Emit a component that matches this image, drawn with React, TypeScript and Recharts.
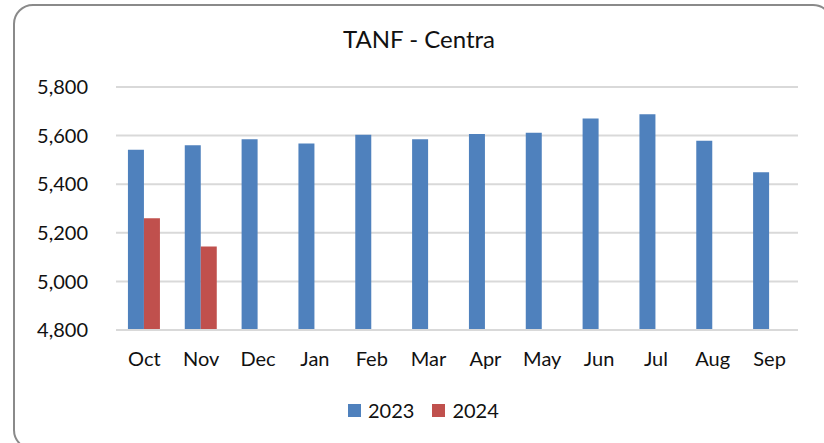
import React from 'react';
import { BarChart, Bar, XAxis, YAxis, CartesianGrid } from 'recharts';

const months = ['Oct', 'Nov', 'Dec', 'Jan', 'Feb', 'Mar', 'Apr', 'May', 'Jun', 'Jul', 'Aug', 'Sep'];
const values2023 = [5542, 5560, 5585, 5568, 5604, 5585, 5607, 5612, 5670, 5688, 5579, 5449];
const values2024: (number | null)[] = [5260, 5144, null, null, null, null, null, null, null, null, null, null];
const yTicks = [4800, 5000, 5200, 5400, 5600, 5800];
const seriesNames = ['2023', '2024'];
const seriesColors = ['#4f81bd', '#c0504d'];
const title = 'TANF - Centra';

const data = months.map((m, i) => ({ month: m, y2023: values2023[i], y2024: values2024[i] }));

const FONT = 'Lato, "Open Sans", sans-serif';

export default function App() {
  return (
    <div style={{ position: 'absolute', left: 0, top: 0, width: 824, height: 443, background: '#fff', fontFamily: FONT, overflow: 'hidden' }}>
      <div
        style={{
          position: 'absolute', left: 13, top: 4, width: 820, height: 446,
          border: '2px solid #8a8a8a', borderRadius: 20, boxSizing: 'border-box',
        }}
      />
      <div style={{ position: 'absolute', left: 0, width: 838, top: 23, textAlign: 'center', fontSize: 24, color: '#111', lineHeight: '32px' }}>
        {title}
      </div>
      <div style={{ position: 'absolute', left: 0, top: 0 }}>
        <BarChart
          width={824}
          height={443}
          data={data}
          margin={{ top: 87, right: 26, left: 36, bottom: 83 }}
          barCategoryGap="21%"
          barGap={0}
        >
          <CartesianGrid vertical={false} stroke="#d9d9d9" strokeWidth={2} />
          <XAxis
            dataKey="month"
            height={30}
            axisLine={{ stroke: '#d9d9d9', strokeWidth: 2 }}
            tickLine={false}
            tickMargin={16}
            tick={{ fill: '#111', fontSize: 20, fontFamily: FONT }}
            interval={0}
          />
          <YAxis
            width={80}
            domain={[4800, 5800]}
            ticks={yTicks}
            axisLine={false}
            tickLine={false}
            tickMargin={22}
            tick={{ fill: '#111', fontSize: 20, fontFamily: FONT }}
            tickFormatter={(v: number) => v.toLocaleString('en-US')}
            allowDataOverflow
          />
          <Bar dataKey="y2023" name={seriesNames[0]} fill={seriesColors[0]} isAnimationActive={false} />
          <Bar dataKey="y2024" name={seriesNames[1]} fill={seriesColors[1]} isAnimationActive={false} />
        </BarChart>
      </div>
      <div style={{ position: 'absolute', top: 397, left: 348, display: 'flex', alignItems: 'center', fontSize: 20, color: '#111', lineHeight: '26px' }}>
        {seriesNames.map((n, i) => (
          <div key={n} style={{ display: 'flex', alignItems: 'center', marginRight: i === 0 ? 18 : 0 }}>
            <span style={{ display: 'inline-block', width: 13, height: 13, background: seriesColors[i], marginRight: 7 }} />
            <span>{n}</span>
          </div>
        ))}
      </div>
    </div>
  );
}
